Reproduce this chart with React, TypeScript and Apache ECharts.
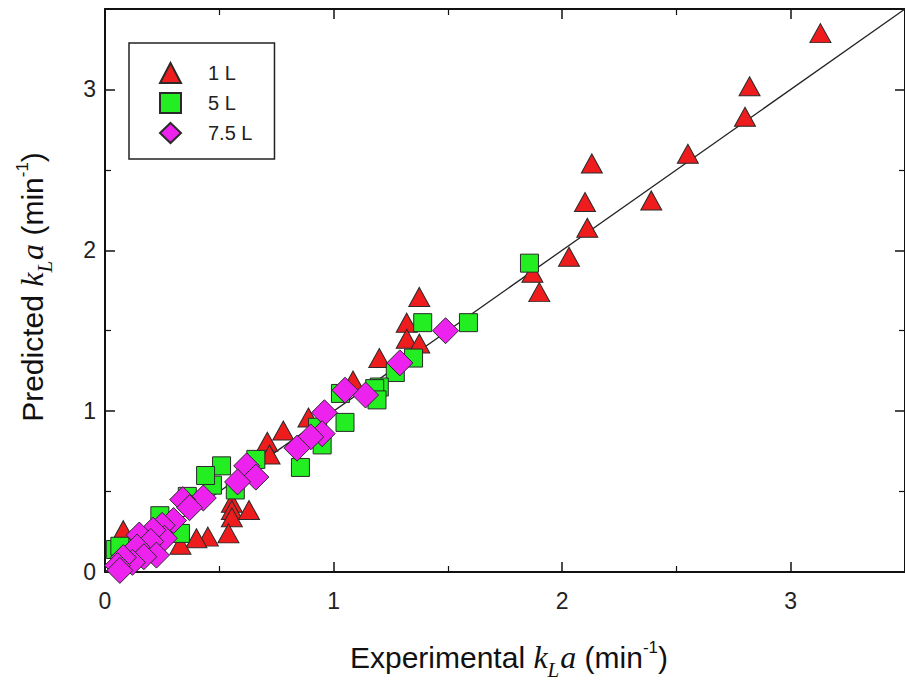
import React, { useEffect, useRef } from "react";
import * as echarts from "echarts";

// Experimental kLa (x) vs Predicted kLa (y), min^-1
const oneL: number[][] = [
  [3.13, 3.35], [2.82, 3.02], [2.80, 2.83], [2.55, 2.60], [2.39, 2.31],
  [2.13, 2.54], [2.10, 2.30], [2.11, 2.14], [2.03, 1.96], [1.87, 1.86],
  [1.90, 1.74], [1.375, 1.71], [1.32, 1.55], [1.32, 1.45], [1.375, 1.42],
  [1.20, 1.33], [1.085, 1.19], [0.89, 0.96], [0.78, 0.88], [0.71, 0.81],
  [0.72, 0.73], [0.555, 0.43], [0.555, 0.385], [0.555, 0.34], [0.63, 0.385],
  [0.54, 0.24], [0.45, 0.22], [0.40, 0.21], [0.08, 0.26], [0.33, 0.17],
];
const fiveL: number[][] = [
  [1.857, 1.92], [1.39, 1.55], [1.59, 1.55], [1.35, 1.33], [1.27, 1.24],
  [1.20, 1.15], [1.03, 1.11], [1.18, 1.14], [1.19, 1.07], [1.05, 0.93],
  [0.93, 0.90], [0.95, 0.79], [0.855, 0.65], [0.66, 0.70], [0.51, 0.66],
  [0.47, 0.54], [0.57, 0.51], [0.44, 0.60], [0.36, 0.47], [0.33, 0.24],
  [0.24, 0.35], [0.10, 0.15], [0.045, 0.14], [0.065, 0.16],
];
const sevenFiveL: number[][] = [
  [1.49, 1.50], [1.29, 1.30], [1.14, 1.10], [1.05, 1.13], [0.96, 0.99],
  [0.95, 0.86], [0.90, 0.84], [0.84, 0.77], [0.62, 0.66], [0.66, 0.59],
  [0.58, 0.56], [0.43, 0.46], [0.34, 0.45], [0.37, 0.40], [0.30, 0.32],
  [0.25, 0.29], [0.26, 0.21], [0.21, 0.26], [0.15, 0.23], [0.20, 0.19],
  [0.14, 0.155], [0.225, 0.105], [0.17, 0.095], [0.12, 0.06], [0.08, 0.09],
  [0.055, 0.04], [0.065, 0.01],
];
const parityLine: number[][] = [[0, 0], [3.5, 3.5]];
const seriesNames = ["1 L", "5 L", "7.5 L"];
const axisMin = 0;
const axisMax = 3.5;

export default function App() {
  const ref = useRef<HTMLDivElement>(null);
  useEffect(() => {
    if (!ref.current) return;
    const chart = echarts.init(ref.current, null, { renderer: "svg" });
    const font = "Arial, 'Liberation Sans', sans-serif";
    const serif = "'Liberation Serif', 'Times New Roman', serif";
    const axisLine = { show: true, onZero: false, lineStyle: { color: "#111", width: 2 } };
    const tick = { show: true, inside: true, length: 10, lineStyle: { color: "#111", width: 1.5 } };
    const minor = { show: true, splitNumber: 2, length: 6, lineStyle: { color: "#111", width: 1.2 } };
    const label = { fontSize: 23, color: "#222", fontFamily: font };
    const border = { borderColor: "#2a2a2a", borderWidth: 1, opacity: 1 };
    const titleRich = {
      n: { fontSize: 30, fontFamily: font, fill: "#111" },
      i: { fontSize: 32, fontFamily: serif, fontStyle: "italic", fill: "#111" },
      s: { fontSize: 21, fontFamily: serif, fontStyle: "italic", fill: "#111", padding: [25, 1, 0, 0] },
      u: { fontSize: 17, fontFamily: font, fill: "#111", padding: [0, 0, 19, 0] },
    };
    chart.setOption({
      animation: false,
      backgroundColor: "#ffffff",
      grid: { left: 105, top: 9, width: 806, height: 563, containLabel: false },
      xAxis: [
        { type: "value", min: axisMin, max: axisMax, interval: 1, position: "bottom",
          axisLine, axisTick: tick, minorTick: minor, splitLine: { show: false },
          axisLabel: { ...label, margin: 17, showMaxLabel: false } },
        { type: "value", min: axisMin, max: axisMax, interval: 1, position: "top",
          axisLine, axisTick: tick, minorTick: minor, splitLine: { show: false },
          axisLabel: { show: false } },
      ],
      yAxis: [
        { type: "value", min: axisMin, max: axisMax, interval: 1, position: "left",
          axisLine, axisTick: tick, minorTick: minor, splitLine: { show: false },
          axisLabel: { ...label, margin: 9, showMaxLabel: false } },
        { type: "value", min: axisMin, max: axisMax, interval: 1, position: "right",
          axisLine, axisTick: tick, minorTick: minor, splitLine: { show: false },
          axisLabel: { show: false } },
      ],
      legend: {
        show: true,
        orient: "vertical",
        left: 129,
        top: 43,
        data: seriesNames,
        borderColor: "#222",
        borderWidth: 1.5,
        padding: [19, 22, 15, 30],
        itemWidth: 21,
        itemHeight: 20,
        itemGap: 8,
        textStyle: { fontSize: 20, color: "#222", fontFamily: font, padding: [0, 0, 0, 22] },
      },
      series: [
        { type: "line", data: parityLine, symbol: "none", silent: true,
          lineStyle: { color: "#222", width: 1.3 }, z: 1 },
        { name: seriesNames[0], type: "scatter", data: oneL, symbol: "triangle",
          symbolSize: [21, 19], itemStyle: { color: "#ee1c1c", ...border }, z: 2 },
        { name: seriesNames[1], type: "scatter", data: fiveL, symbol: "rect",
          symbolSize: 18, itemStyle: { color: "#22ee22", ...border }, z: 3 },
        { name: seriesNames[2], type: "scatter", data: sevenFiveL, symbol: "diamond",
          symbolSize: 26, itemStyle: { color: "#ee22ee", ...border }, z: 4 },
      ],
      graphic: [
        {
          type: "text", x: 509, y: 657,
          style: {
            text: "{n|Experimental }{i|k}{s|L}{i|a}{n| (min}{u|-1}{n|)}",
            align: "center", verticalAlign: "middle",
            rich: titleRich,
          },
        },
        {
          type: "text", x: 32, y: 287, rotation: Math.PI / 2,
          style: {
            text: "{n|Predicted }{i|k}{s|L}{i|a}{n| (min}{u|-1}{n|)}",
            align: "center", verticalAlign: "middle",
            rich: titleRich,
          },
        },
      ],
    });
    return () => chart.dispose();
  }, []);
  return (
    <div
      ref={ref}
      style={{ position: "fixed", left: 0, top: 0, width: 905, height: 680, background: "#fff" }}
    />
  );
}
